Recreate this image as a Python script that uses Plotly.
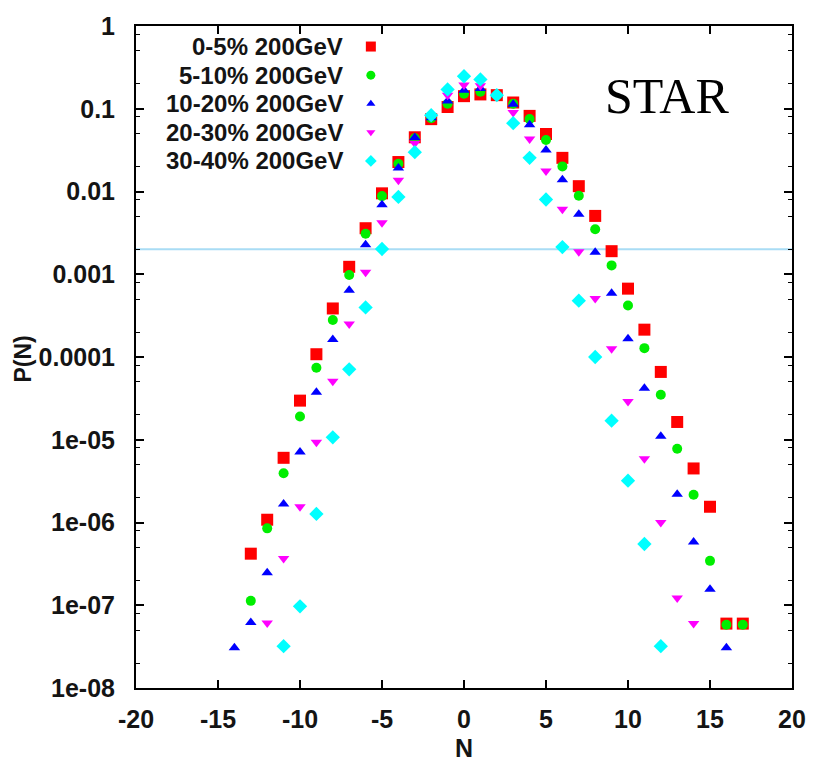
import plotly.graph_objects as go

# ---------------- data ----------------
N_05 = list(range(-13, 18))
P_05 = [4.2e-7, 1.08e-6, 6.05e-6, 2.97e-5, 1.08e-4, 3.86e-4, 1.23e-3, 3.6e-3, 9.5e-3,
        0.0227, 0.0452, 0.0749, 0.105, 0.142, 0.149, 0.146, 0.119, 0.082, 0.0495,
        0.0255, 0.0116, 5.07e-3, 1.9e-3, 6.7e-4, 2.14e-4, 6.6e-5, 1.64e-5, 4.5e-6,
        1.55e-6, 6.0e-8, 6.0e-8]

N_510 = list(range(-13, 18))
P_510 = [1.13e-7, 8.5e-7, 3.94e-6, 1.91e-5, 7.4e-5, 2.8e-4, 9.8e-4, 3.08e-3, 8.8e-3,
         0.0216, 0.044, 0.077, 0.115, 0.152, 0.161, 0.146, 0.115, 0.075, 0.042,
         0.0201, 8.9e-3, 3.5e-3, 1.28e-3, 4.2e-4, 1.28e-4, 3.5e-5, 7.8e-6, 2.16e-6,
         3.44e-7, 5.8e-8, 5.8e-8]

N_1020 = list(range(-14, 17))
P_1020 = [3.07e-8, 6.2e-8, 2.47e-7, 1.67e-6, 7.1e-6, 3.74e-5, 1.63e-4, 6.4e-4, 2.27e-3,
          6.9e-3, 0.0192, 0.045, 0.078, 0.124, 0.167, 0.176, 0.148, 0.113, 0.064,
          0.0318, 0.0139, 5.3e-3, 1.84e-3, 5.9e-4, 1.66e-4, 4.2e-5, 1.1e-5, 2.2e-6,
          5.8e-7, 1.56e-7, 3.07e-8]

N_2030 = list(range(-12, 15))
P_2030 = [6.1e-8, 3.67e-7, 1.55e-6, 9.3e-6, 5.1e-5, 2.5e-4, 1.06e-3, 4.2e-3, 0.0137,
          0.0383, 0.079, 0.146, 0.193, 0.19, 0.146, 0.090, 0.043, 0.0177, 6.1e-3,
          1.87e-3, 5.1e-4, 1.26e-4, 2.9e-5, 5.9e-6, 1.0e-6, 1.22e-7, 6.0e-8]

N_3040 = list(range(-11, 13))
P_3040 = [3.2e-8, 9.7e-8, 1.27e-6, 1.07e-5, 7.1e-5, 3.97e-4, 2.02e-3, 8.6e-3, 0.0299,
          0.0836, 0.171, 0.247, 0.226, 0.146, 0.067, 0.0255, 8.0e-3, 2.13e-3, 4.8e-4,
          1.0e-4, 1.7e-5, 3.2e-6, 5.5e-7, 3.2e-8]

LABELS = ["0-5% 200GeV", "5-10% 200GeV", "10-20% 200GeV", "20-30% 200GeV", "30-40% 200GeV"]
X_TICKS = [-20, -15, -10, -5, 0, 5, 10, 15, 20]
X_TICKTEXT = ["-20", "-15", "-10", "-5", "0", "5", "10", "15", "20"]
Y_TICKS = [1, 0.1, 0.01, 0.001, 0.0001, 1e-5, 1e-6, 1e-7, 1e-8]
Y_TICKTEXT = ["1", "0.1", "0.01", "0.001", "0.0001", "1e-05", "1e-06", "1e-07", "1e-08"]
HLINE_P = 0.002

# ---------------- styles ----------------
SERIES = [
    (N_05, P_05, "square", "#ff0000", 12, 10),
    (N_510, P_510, "circle", "#00ee00", 10, 9),
    (N_1020, P_1020, "triangle-up", "#0000ff", 10, 8),
    (N_2030, P_2030, "triangle-down", "#ff00ff", 10, 8),
    (N_3040, P_3040, "diamond", "#00ffff", 11, 9),
]

W, H = 818, 773
ML, MR, MT, MB = 136, 20, 21, 85
PW, PH = W - ML - MR, H - MT - MB

def px_x(x):
    return (x - ML) / PW

def px_y(y):
    return 1 - (y - MT) / PH

FONT = "Liberation Sans, Arial, Helvetica, sans-serif"
TXT = "#141414"

fig = go.Figure()

# horizontal reference line at P = 0.002
fig.add_trace(go.Scatter(x=[-20, 20], y=[HLINE_P, HLINE_P], mode="lines", showlegend=False,
                         hoverinfo="skip", line=dict(color="#a9dcf5", width=2)))

for (xs, ys, sym, col, sz, _), lab in zip(SERIES, LABELS):
    fig.add_trace(go.Scatter(x=xs, y=ys, mode="markers", name=lab, showlegend=False,
                             marker=dict(symbol=sym, color=col, size=sz, line=dict(width=0))))

# custom legend (text left, symbol right as in the reference)
row_y = [41.7 + 28.8 * i for i in range(len(LABELS))]
for i, ((xs, ys, sym, col, _, lsz), lab) in enumerate(zip(SERIES, LABELS)):
    fig.add_trace(go.Scatter(x=[px_x(373)], y=[px_y(row_y[i])], mode="markers",
                             xaxis="x2", yaxis="y2", showlegend=False, hoverinfo="skip",
                             marker=dict(symbol=sym, color=col, size=lsz, line=dict(width=0))))
    fig.add_annotation(text=lab, xref="paper", yref="paper", x=px_x(347), y=px_y(row_y[i]),
                       xanchor="right", yanchor="middle", showarrow=False,
                       font=dict(family=FONT, size=24, color=TXT, weight="bold"))

minor_vals = []
for e in range(-8, 0):
    for m in (2, 5, 8):
        minor_vals.append(m * 10 ** e)

axis_common = dict(showline=True, linewidth=2, linecolor="black", mirror="ticks",
                   ticks="inside", ticklen=8, tickwidth=1.5, tickcolor="black",
                   showgrid=False, zeroline=False,
                   tickfont=dict(family=FONT, size=25, color=TXT, weight="bold"))

fig.update_layout(
    width=W, height=H,
    margin=dict(l=ML, r=MR, t=MT, b=MB),
    paper_bgcolor="white", plot_bgcolor="white",
    xaxis=dict(range=[-20, 20], tickvals=X_TICKS, ticktext=X_TICKTEXT,
               ticklabelstandoff=8, **axis_common),
    yaxis=dict(type="log", range=[-8, 0], tickvals=Y_TICKS, ticktext=Y_TICKTEXT,
               ticklabelstandoff=14,
               minor=dict(tickvals=minor_vals, ticks="inside", ticklen=4,
                          tickwidth=1.2, tickcolor="black", showgrid=False),
               **axis_common),
    xaxis2=dict(overlaying="x", range=[0, 1], visible=False, anchor="y2"),
    yaxis2=dict(overlaying="y", range=[0, 1], visible=False, anchor="x2"),
    showlegend=False,
)

fig.add_annotation(text="STAR", xref="paper", yref="paper", x=px_x(672), y=px_y(92),
                   xanchor="center", yanchor="middle", showarrow=False,
                   font=dict(family="Liberation Serif, Times New Roman, serif", size=50, color="black"))
fig.add_annotation(text="N", xref="paper", yref="paper", x=px_x(467), y=px_y(748),
                   xanchor="center", yanchor="middle", showarrow=False,
                   font=dict(family=FONT, size=25, color=TXT, weight="bold"))
fig.add_annotation(text="P(N)", xref="paper", yref="paper", x=px_x(22), y=px_y(357),
                   xanchor="center", yanchor="middle", showarrow=False, textangle=-90,
                   font=dict(family=FONT, size=23, color=TXT, weight="bold"))

fig.write_html("out.html")
